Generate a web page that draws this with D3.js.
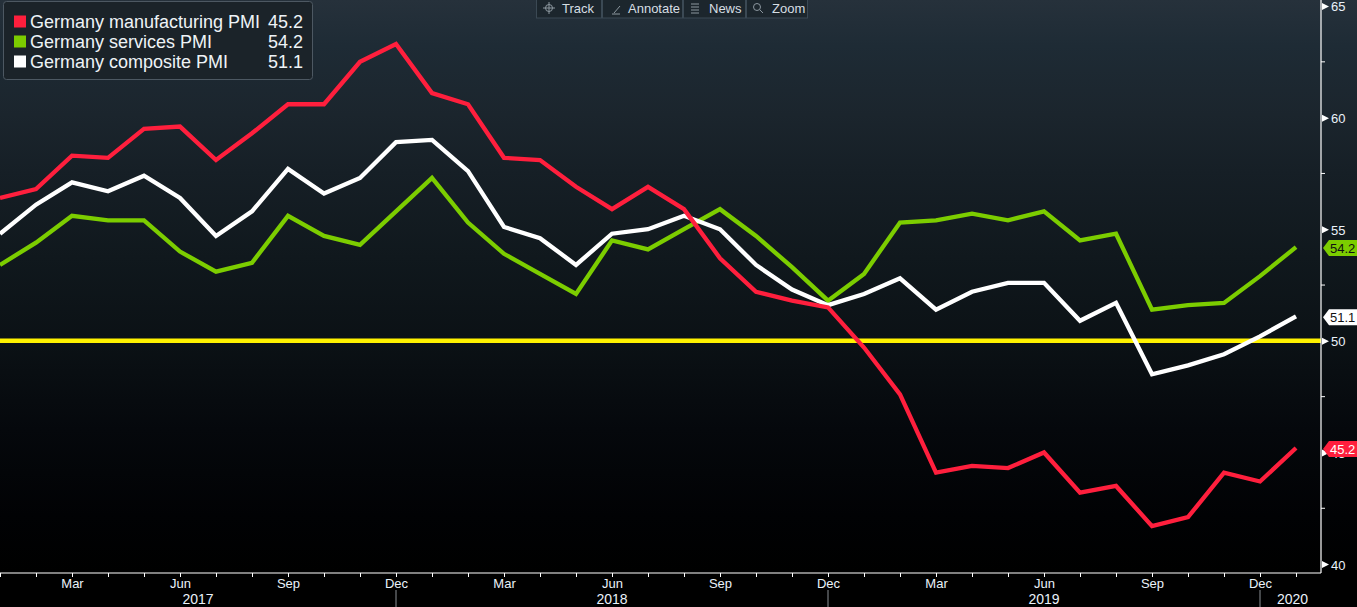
<!DOCTYPE html>
<html>
<head>
<meta charset="utf-8">
<script src="https://cdn.jsdelivr.net/npm/d3@7"></script>
<style>
  html, body { margin: 0; padding: 0; background: #000; }
  svg { display: block; }
  text { font-family: "Liberation Sans", Arial, sans-serif; }
</style>
</head>
<body>
<svg id="chart" width="1357" height="607"></svg>
<script>
// ---------- DATA ----------
const months = [
  "Jan 2017","Feb 2017","Mar 2017","Apr 2017","May 2017","Jun 2017","Jul 2017","Aug 2017","Sep 2017","Oct 2017","Nov 2017","Dec 2017",
  "Jan 2018","Feb 2018","Mar 2018","Apr 2018","May 2018","Jun 2018","Jul 2018","Aug 2018","Sep 2018","Oct 2018","Nov 2018","Dec 2018",
  "Jan 2019","Feb 2019","Mar 2019","Apr 2019","May 2019","Jun 2019","Jul 2019","Aug 2019","Sep 2019","Oct 2019","Nov 2019","Dec 2019",
  "Jan 2020"
];
const manufacturing = [56.4,56.8,58.3,58.2,59.5,59.6,58.1,59.3,60.6,60.6,62.5,63.3,
  61.1,60.6,58.2,58.1,56.9,55.9,56.9,55.9,53.7,52.2,51.8,51.5,
  49.7,47.6,44.1,44.4,44.3,45.0,43.2,43.5,41.7,42.1,44.1,43.7,
  45.2];
const services = [53.4,54.4,55.6,55.4,55.4,54.0,53.1,53.5,55.6,54.7,54.3,55.8,
  57.3,55.3,53.9,53.0,52.1,54.5,54.1,55.0,55.9,54.7,53.3,51.8,
  53.0,55.3,55.4,55.7,55.4,55.8,54.5,54.8,51.4,51.6,51.7,52.9,
  54.2];
const composite = [54.8,56.1,57.1,56.7,57.4,56.4,54.7,55.8,57.7,56.6,57.3,58.9,
  59.0,57.6,55.1,54.6,53.4,54.8,55.0,55.6,55.0,53.4,52.3,51.6,
  52.1,52.8,51.4,52.2,52.6,52.6,50.9,51.7,48.5,48.9,49.4,50.2,
  51.1];
const seriesNames = ["Germany manufacturing PMI","Germany services PMI","Germany composite PMI"];
const yTicks = [40,45,50,55,60,65];
const yMinorTicks = [42.5,47.5,52.5,57.5,62.5];
const monthTickLabels = ["Mar","Jun","Sep","Dec"];
const yearLabels = ["2017","2018","2019","2020"];
const referenceLevel = 50;
const toolbarItems = ["Track","Annotate","News","Zoom"];

// ---------- LAYOUT ----------
const W = 1357, H = 607;
const plotRight = 1321, plotBottom = 573;
const colors = ["#ff1f3d", "#7ccd00", "#ffffff"];
const seriesList = [manufacturing, services, composite];

const svg = d3.select("#chart");

const x = d3.scaleLinear().domain([0, 36.694]).range([0, plotRight]);
const y = d3.scaleLinear().domain([39.6, 65.27]).range([plotBottom, 0]);

// background gradient
const defs = svg.append("defs");
const grad = defs.append("linearGradient").attr("id","bg").attr("x1",0).attr("y1",0).attr("x2",0).attr("y2",1);
[[0,"#26313b"],[0.08,"#1e2b35"],[0.2,"#1b252d"],[0.3,"#161f26"],[0.45,"#10181d"],[0.6,"#0b1115"],[0.75,"#05080c"],[0.9,"#010204"],[1,"#000000"]]
  .forEach(([o,c]) => grad.append("stop").attr("offset",o).attr("stop-color",c));
svg.append("rect").attr("x",0).attr("y",0).attr("width",W).attr("height",plotBottom).attr("fill","url(#bg)");
svg.append("rect").attr("x",0).attr("y",plotBottom).attr("width",W).attr("height",H-plotBottom).attr("fill","#000");

// reference line at 50
svg.append("line")
  .attr("x1",0).attr("x2",plotRight)
  .attr("y1",y(referenceLevel)).attr("y2",y(referenceLevel))
  .attr("stroke","#fff200").attr("stroke-width",4.5);

// series lines
const line = d3.line().x((d,i)=>x(i)).y(d=>y(d));
[1,2,0].forEach(k => {
  svg.append("path").datum(seriesList[k])
    .attr("d", line)
    .attr("fill","none")
    .attr("stroke", colors[k])
    .attr("stroke-width", 4.3)
    .attr("stroke-linejoin","miter")
    .attr("stroke-linecap","butt");
});

// ---------- Y AXIS (right) ----------
const yAxisG = svg.append("g").attr("transform",`translate(${plotRight},0)`);
yAxisG.append("line").attr("x1",0).attr("x2",0).attr("y1",0).attr("y2",plotBottom)
  .attr("stroke","#ffffff").attr("stroke-width",1.2);
const yAxis = d3.axisRight(y).tickValues(yTicks).tickSize(0).tickPadding(10).tickFormat(d3.format("d"));
const yAx = yAxisG.append("g").call(yAxis);
yAx.select(".domain").remove();
yAx.selectAll("text").attr("fill","#eaf2fa").attr("font-size",13).attr("dy","0.38em");
yAx.selectAll(".tick").append("path")
  .attr("d","M1,-3.5 L8,0 L1,3.5 Z").attr("fill","#ffffff");
yAxisG.selectAll(".minor").data(yMinorTicks).enter().append("line")
  .attr("x1",0).attr("x2",4).attr("y1",d=>y(d)).attr("y2",d=>y(d))
  .attr("stroke","#fff").attr("stroke-width",1);

// ---------- X AXIS ----------
const xAxisG = svg.append("g").attr("transform",`translate(0,${plotBottom})`);
xAxisG.append("line").attr("x1",0).attr("x2",plotRight).attr("y1",0).attr("y2",0)
  .attr("stroke","#ffffff").attr("stroke-width",1.2);
const monthIdx = months.map((m,i)=>i);
const xAxis = d3.axisBottom(x).tickValues(monthIdx).tickSize(4)
  .tickFormat(i => { const m = months[i].split(" ")[0]; return monthTickLabels.includes(m) ? m : ""; });
const xAx = xAxisG.append("g").call(xAxis);
xAx.select(".domain").remove();
xAx.selectAll(".tick line").attr("stroke","#fff").attr("stroke-width",1);
xAx.selectAll("text").attr("fill","#eaf2fa").attr("font-size",13).attr("dy","0.35em").attr("y",10);

// year separators at Dec positions and year labels
const decIdx = monthIdx.filter(i => months[i].startsWith("Dec"));
svg.selectAll(".ysep").data(decIdx).enter().append("line")
  .attr("x1",d=>x(d)).attr("x2",d=>x(d)).attr("y1",plotBottom+17).attr("y2",H)
  .attr("stroke","#8a8f94").attr("stroke-width",1);
const bounds = [0, ...decIdx.map(d=>x(d)), plotRight];
svg.selectAll(".ylab").data(yearLabels).enter().append("text")
  .attr("x",(d,i)=>(bounds[i]+bounds[i+1])/2 + (i===3?2:0))
  .attr("y",plotBottom+31)
  .attr("text-anchor","middle")
  .attr("fill","#eaf2fa").attr("font-size",14)
  .text(d=>d);

// ---------- VALUE TAGS ----------
const tagText = ["#ffffff","#111111","#111111"];
seriesList.forEach((s,k) => {
  const v = s[s.length-1];
  const cy = y(v) + 1;
  const g = svg.append("g");
  g.append("path")
    .attr("d",`M${plotRight+2},${cy} L${plotRight+8},${cy-8} L${W},${cy-8} L${W},${cy+8} L${plotRight+8},${cy+8} Z`)
    .attr("fill",colors[k]);
  g.append("text").attr("x",plotRight+9).attr("y",cy).attr("dy","0.36em")
    .attr("fill",tagText[k]).attr("font-size",13).text(d3.format(".1f")(v));
});

// ---------- LEGEND ----------
const leg = svg.append("g");
leg.append("rect").attr("x",3.5).attr("y",1.5).attr("width",309).attr("height",78).attr("rx",3)
  .attr("fill","#1b2329").attr("stroke","#4d5862").attr("stroke-width",1);
seriesList.forEach((s,k) => {
  const cy = 21.5 + k*20;
  leg.append("rect").attr("x",14).attr("y",cy-6).attr("width",12).attr("height",12).attr("fill",colors[k]);
  leg.append("text").attr("x",30).attr("y",cy).attr("dy","0.36em")
    .attr("fill","#eef3f7").attr("font-size",18).text(seriesNames[k]);
  leg.append("text").attr("x",303).attr("y",cy).attr("dy","0.36em").attr("text-anchor","end")
    .attr("fill","#eef3f7").attr("font-size",18).text(d3.format(".1f")(s[s.length-1]));
});

// ---------- TOOLBAR ----------
const tb = svg.append("g");
const tbX = [536, 602, 683, 746, 808];
toolbarItems.forEach((t,i) => {
  tb.append("rect").attr("x",tbX[i]+0.5).attr("y",-1).attr("width",tbX[i+1]-tbX[i]-1).attr("height",19)
    .attr("fill","#1c262d").attr("stroke","#3b4954").attr("stroke-width",1);
  tb.append("text").attr("x",tbX[i]+26).attr("y",8).attr("dy","0.36em")
    .attr("fill","#d6dee3").attr("font-size",13).text(t);
});
// toolbar icons
const ic = tb.append("g").attr("stroke","#8c979f").attr("fill","none").attr("stroke-width",1);
ic.append("circle").attr("cx",549).attr("cy",8).attr("r",3.5);
ic.append("path").attr("d","M543,8 H555 M549,2 V14");
ic.append("path").attr("d","M614,13 L620,6 M612,14 H620");
ic.append("path").attr("d","M691,4 H699 M691,7 H699 M691,10 H699 M691,13 H699");
ic.append("circle").attr("cx",757).attr("cy",7).attr("r",3.5);
ic.append("path").attr("d","M760,10 L763,13");
</script>
</body>
</html>
